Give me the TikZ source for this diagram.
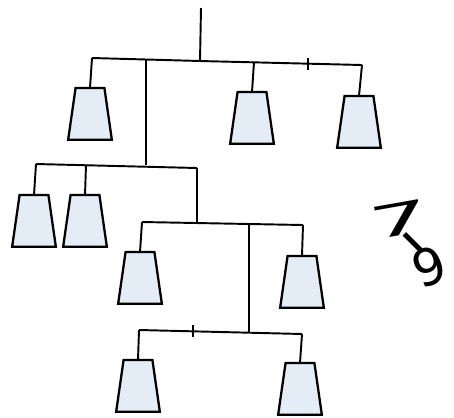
\documentclass[tikz,border=0pt]{standalone}
\usepackage{fontspec}
\usepackage{tikz}
\usetikzlibrary{positioning, calc}
\newfontfamily\handfont{DejaVu Sans}
\definecolor{weightfill}{RGB}{228,236,245}

\begin{document}
\begin{tikzpicture}[
    x=0.02cm, y=0.02cm,
    weight/.style={minimum width=0.86cm, minimum height=1.02cm, inner sep=0pt, anchor=north},
    body/.style={draw, line width=1.3pt, fill=weightfill, line join=miter},
    rod/.style={line width=1.1pt},
    tick/.style={line width=1pt}
  ]
    \useasboundingbox (0,0) rectangle (454,-417);
    % top level
    \coordinate (hook) at (201,-8);
    \coordinate (top) at (200,-61);
    \coordinate (topL) at (92,-58);
    \coordinate (topR) at (362,-65);
    \coordinate (topA) at (146,-59);
    \coordinate (topB) at (254,-62);
    \coordinate (topT) at (308,-64);
    \node[weight] (w1) at (90,-88) {};
    \node[weight] (w2) at (252,-92) {};
    \node[weight] (w3) at (359,-96) {};
    % second level
    \coordinate (midL) at (36,-164);
    \coordinate (midA) at (146,-165);
    \coordinate (midB) at (86,-165);
    \coordinate (midR) at (197,-168);
    \node[weight] (w4) at (34,-195) {};
    \node[weight] (w5) at (85,-195) {};
    % third level
    \coordinate (lowL) at (142,-222);
    \coordinate (lowA) at (197,-222);
    \coordinate (lowB) at (249,-224);
    \coordinate (lowR) at (303,-225);
    \node[weight] (w6) at (140,-252) {};
    \node[weight] (w7) at (302,-256) {};
    % bottom level
    \coordinate (botL) at (139,-330);
    \coordinate (botA) at (249,-332);
    \coordinate (botR) at (302,-334);
    \coordinate (botT) at (193,-331);
    \node[weight] (w8) at (138,-360) {};
    \node[weight] (w9) at (300,-363) {};
    % hand-written label, laid out on a diagonal
    \node[font=\handfont\fontsize{36}{36}\selectfont, inner sep=0pt, anchor=base west] (lbl) at (366,-235)
      {\makebox[0pt][l]{\rotatebox[origin=c]{10}{\scalebox{1.5}[0.7]{7}}}%
       \makebox[0pt][l]{\hspace{0.44cm}\raisebox{-0.46cm}{\rotatebox[origin=c]{-45}{\scalebox{1.4}[1]{-}}}}%
       \makebox[0pt][l]{\hspace{0.8cm}\raisebox{-1.0cm}{\rotatebox[origin=c]{20}{\scalebox{0.8}{9}}}}%
       \hspace{1.5cm}};
    % weight bodies
    \foreach \w in {w1,w2,w3,w4,w5,w6,w7,w8,w9}
      \draw[body] ($(\w.north west)!0.17!(\w.north east)$) -- ($(\w.north west)!0.83!(\w.north east)$)
        -- (\w.south east) -- (\w.south west) -- cycle;
    \draw[rod] (hook) -- (top);
    \draw[rod] (topL) -- (top) -- (topR);
    \draw[rod] (topL) -- (w1.north);
    \draw[rod] (topB) -- (w2.north);
    \draw[rod] (topR) -- (w3.north);
    \draw[tick] ([yshift=-0.12cm]topT) -- ([yshift=0.12cm]topT);
    \draw[rod] (topA) -- (midA);
    \draw[rod] (midL) -- (midR);
    \draw[rod] (midL) -- (w4.north);
    \draw[rod] (midB) -- (w5.north);
    \draw[rod] (midR) -- (lowA);
    \draw[rod] (lowL) -- (lowR);
    \draw[rod] (lowL) -- (w6.north);
    \draw[rod] (lowR) -- (w7.north);
    \draw[rod] (lowB) -- (botA);
    \draw[rod] (botL) -- (botR);
    \draw[rod] (botL) -- (w8.north);
    \draw[rod] (botR) -- (w9.north);
    \draw[tick] ([yshift=-0.12cm]botT) -- ([yshift=0.12cm]botT);
  \end{tikzpicture}
\end{document}
